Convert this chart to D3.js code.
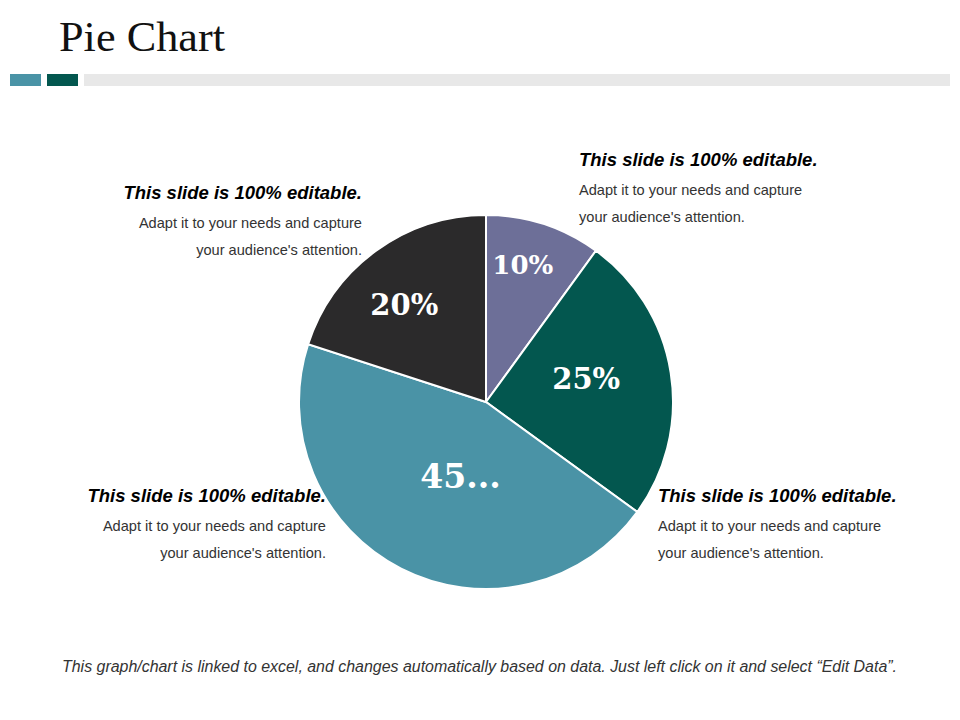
<!DOCTYPE html>
<html>
<head>
<meta charset="utf-8">
<script src="https://cdn.jsdelivr.net/npm/d3@7"></script>
<style>
  body { margin: 0; background: #fff; }
  svg { display: block; }
</style>
</head>
<body>
<script>
const width = 960;
const height = 720;

// slice data, clockwise from 12 o'clock
const categories = ["A", "B", "C", "D"];
const values = [10, 25, 45, 20];
const sliceLabels = ["10%", "25%", "45...", "20%"];
const sliceColors = ["#6d6f98", "#03574f", "#4a93a6", "#2b2a2b"];

const noteHeading = "This slide is 100% editable.";
const noteLines = ["Adapt it to your needs and capture", "your audience's attention."];

const svg = d3.select("body")
    .append("svg")
    .attr("width", width)
    .attr("height", height);

// title + header strip
svg.append("text")
    .attr("x", 59)
    .attr("y", 51)
    .attr("font-family", "Liberation Serif, serif")
    .attr("font-size", 42)
    .attr("fill", "#111")
    .attr("textLength", 166)
    .attr("lengthAdjust", "spacingAndGlyphs")
    .text("Pie Chart");

svg.append("rect").attr("x", 10).attr("y", 74).attr("width", 31).attr("height", 12).attr("fill", "#4a93a6");
svg.append("rect").attr("x", 47).attr("y", 74).attr("width", 31).attr("height", 12).attr("fill", "#03574f");
svg.append("rect").attr("x", 84).attr("y", 74).attr("width", 866).attr("height", 12).attr("fill", "#e8e8e8");

// pie
const cx = 486, cy = 402, r = 187;
const color = d3.scaleOrdinal().domain(categories).range(sliceColors);
const pie = d3.pie().sort(null).value((d, i) => values[i]);
const arcs = pie(categories);
const arc = d3.arc().innerRadius(0).outerRadius(r);

const g = svg.append("g").attr("transform", `translate(${cx},${cy})`);

g.selectAll("path")
    .data(arcs)
    .enter()
    .append("path")
    .attr("d", arc)
    .attr("fill", d => color(d.data))
    .attr("stroke", "#fff")
    .attr("stroke-width", 2);

// label placement (fraction of radius, angle nudge in degrees)
const labelPos = [[0.76, -3], [0.55, -4], [0.42, -8], [0.68, -4]];
const labelSize = [26, 29, 33, 29];

g.selectAll("text.slice")
    .data(arcs)
    .enter()
    .append("text")
    .attr("class", "slice")
    .attr("transform", (d, i) => {
        const a = (d.startAngle + d.endAngle) / 2 + labelPos[i][1] * Math.PI / 180;
        const rr = r * labelPos[i][0];
        return `translate(${rr * Math.sin(a)},${-rr * Math.cos(a)})`;
    })
    .attr("text-anchor", "middle")
    .attr("dy", "0.35em")
    .attr("font-family", "DejaVu Serif, serif")
    .attr("font-weight", "bold")
    .attr("font-size", (d, i) => labelSize[i])
    .attr("fill", "#fff")
    .text((d, i) => sliceLabels[i]);

// text notes around the pie
const notes = [
    { x: 579, y: 166, anchor: "start" },
    { x: 362, y: 199, anchor: "end" },
    { x: 326, y: 502, anchor: "end" },
    { x: 658, y: 502, anchor: "start" }
];

notes.forEach(n => {
    const t = svg.append("g");
    t.append("text")
        .attr("x", n.x)
        .attr("y", n.y)
        .attr("text-anchor", n.anchor)
        .attr("font-family", "Liberation Sans, Arial, sans-serif")
        .attr("font-size", 18.5)
        .attr("font-weight", "bold")
        .attr("font-style", "italic")
        .attr("fill", "#000")
        .text(noteHeading);
    noteLines.forEach((line, i) => {
        t.append("text")
            .attr("x", n.x)
            .attr("y", n.y + 29 + i * 27)
            .attr("text-anchor", n.anchor)
            .attr("font-family", "Liberation Sans, Arial, sans-serif")
            .attr("font-size", 14.6)
            .attr("fill", "#333")
            .text(line);
    });
});

// footer
svg.append("text")
    .attr("x", 62)
    .attr("y", 672)
    .attr("font-family", "Liberation Sans Narrow, Arial Narrow, sans-serif")
    .attr("font-size", 16)
    .attr("font-style", "italic")
    .attr("fill", "#333")
    .attr("textLength", 835)
    .attr("lengthAdjust", "spacingAndGlyphs")
    .text("This graph/chart is linked to excel, and changes automatically based on data. Just left click on it and select \u201cEdit Data\u201d.");
</script>
</body>
</html>
